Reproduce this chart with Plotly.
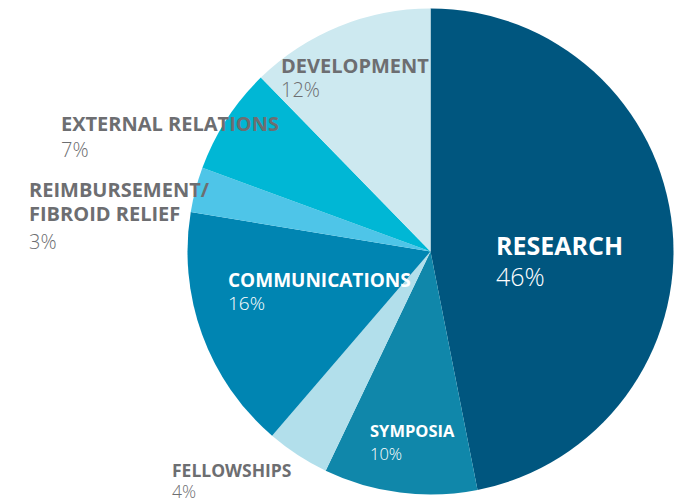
import plotly.graph_objects as go

# ---- data ----
categories = ["RESEARCH", "SYMPOSIA", "FELLOWSHIPS", "COMMUNICATIONS",
              "REIMBURSEMENT/<br>FIBROID RELIEF", "EXTERNAL RELATIONS", "DEVELOPMENT"]
shares = [46.9, 10.2, 4.2, 16.3, 3.0, 7.1, 12.3]          # slice sizes
pct_labels = ["46%", "10%", "4%", "16%", "3%", "7%", "12%"]  # printed labels

# ---- styles ----
colors = ["#00567F", "#1087AA", "#B2DFEB", "#0085B2", "#4EC5E8", "#00B7D5", "#CDE9F0"]
W, H = 679, 501
cx, cy, R = 430.5, 251.5, 243
FONT = "Open Sans"

fig = go.Figure(go.Pie(
    labels=[c.replace("<br>", " ") for c in categories],
    values=shares,
    sort=False,
    direction="clockwise",
    rotation=0,
    marker=dict(colors=colors, line=dict(width=0)),
    textinfo="none",
    hoverinfo="label+percent",
    showlegend=False,
    domain=dict(x=[(cx - R) / W, (cx + R) / W],
                y=[(H - (cy + R)) / H, (H - (cy - R)) / H]),
))

# label placement (left x px, cap-middle y of name line(s), cap-middle of pct line), colour, size
label_pos = [
    (494, 245, 276, "white", 25),
    (368, 430, 453, "white", 16.5),
    (170, 470, 491, "#6D6E71", 17.5),
    (226, 280, 303, "white", 19),
    (27, [189, 214], 241, "#6D6E71", 20),
    (59, 123, 149, "#6D6E71", 20),
    (279, 65, 89, "#6D6E71", 20),
]

def px(x):
    return x / W

def py(y):
    return 1 - y / H

for cat, pct, (lx, ny, pyy, col, fs) in zip(categories, pct_labels, label_pos):
    names = cat.split("<br>")
    ys = ny if isinstance(ny, list) else [ny]
    for nm, yy in zip(names, ys):
        fig.add_annotation(x=px(lx), y=py(yy), xref="paper", yref="paper",
                           text=nm, showarrow=False, xanchor="left", yanchor="middle",
                           font=dict(family=FONT, size=fs, color=col, weight=700))
    fig.add_annotation(x=px(lx), y=py(pyy), xref="paper", yref="paper",
                       text=pct, showarrow=False, xanchor="left", yanchor="middle",
                       font=dict(family=FONT, size=fs, color=col, weight=300))

fig.update_layout(width=W, height=H, margin=dict(l=0, r=0, t=0, b=0),
                  paper_bgcolor="white", plot_bgcolor="white")
fig.write_html("out.html", config={"displayModeBar": False},
               post_script="document.body.style.margin='0';document.body.style.overflow='hidden';")
